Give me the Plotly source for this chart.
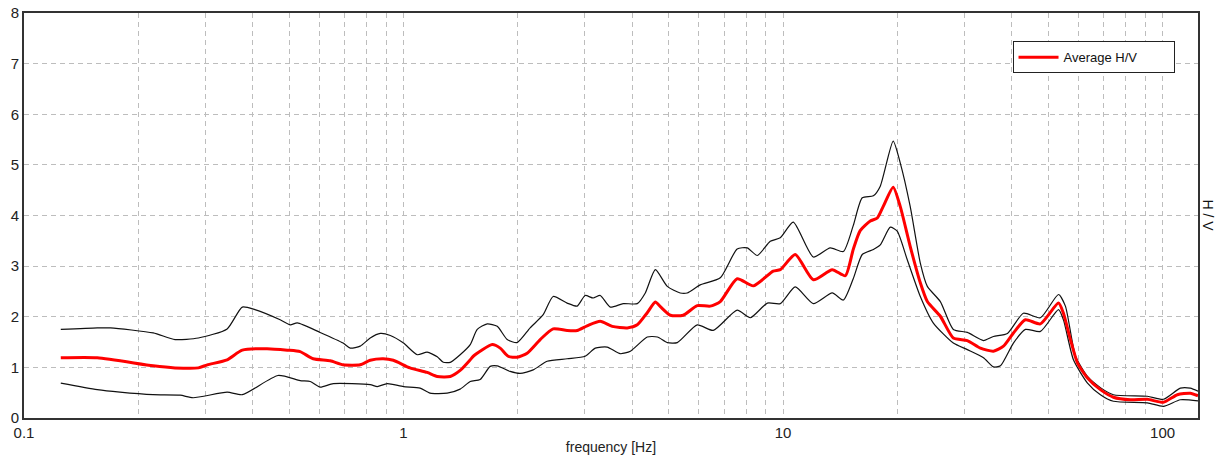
import numpy as np
import plotly.graph_objects as go

# ---- data ----
avg_freq = [0.125, 0.156, 0.219, 0.250, 0.288, 0.304, 0.343, 0.376, 0.437, 0.494, 0.534, 0.578,
            0.641, 0.693, 0.769, 0.817, 0.884, 0.940, 1.04, 1.154, 1.227, 1.328, 1.410, 1.499,
            1.527, 1.713, 1.798, 1.887, 1.993, 2.117, 2.292, 2.479, 2.698, 2.868, 3.046, 3.299,
            3.548, 3.887, 4.130, 4.387, 4.609, 4.750, 5.047, 5.458, 5.943, 6.430, 6.834, 7.570,
            8.349, 9.421, 9.834, 10.77, 12.02, 13.48, 14.59, 15.31, 15.97, 16.98, 17.72, 18.37,
            19.51, 20.36, 21.63, 23.00, 24.00, 25.97, 28.10, 30.59, 33.12, 35.84, 38.09, 40.46,
            43.52, 47.66, 53.19, 54.81, 57.18, 59.67, 63.42, 68.59, 74.23, 82.27, 91.20, 100.5,
            109.4, 118.3, 124.0]
avg_hv = [1.19, 1.19, 1.03, 0.99, 0.99, 1.05, 1.15, 1.34, 1.37, 1.34, 1.31, 1.17,
          1.13, 1.05, 1.05, 1.14, 1.17, 1.14, 0.99, 0.90, 0.82, 0.82, 0.94, 1.15,
          1.22, 1.45, 1.38, 1.22, 1.20, 1.28, 1.55, 1.76, 1.73, 1.73, 1.82, 1.91,
          1.81, 1.78, 1.84, 2.08, 2.29, 2.20, 2.03, 2.03, 2.22, 2.21, 2.30, 2.75,
          2.61, 2.90, 2.93, 3.23, 2.73, 2.93, 2.81, 3.33, 3.70, 3.89, 3.95, 4.18,
          4.56, 4.18, 3.39, 2.67, 2.30, 2.01, 1.58, 1.53, 1.38, 1.32, 1.42, 1.68,
          1.94, 1.86, 2.27, 2.07, 1.55, 1.09, 0.79, 0.56, 0.41, 0.36, 0.37, 0.31,
          0.46, 0.49, 0.44]

upper_freq = [0.125, 0.156, 0.169, 0.219, 0.250, 0.288, 0.343, 0.376, 0.406, 0.473, 0.503, 0.525,
              0.603, 0.693, 0.724, 0.769, 0.817, 0.869, 0.923, 1.00, 1.087, 1.154, 1.227, 1.273,
              1.328, 1.410, 1.499, 1.564, 1.662, 1.766, 1.876, 1.993, 2.156, 2.334, 2.479, 2.698,
              2.868, 3.010, 3.160, 3.299, 3.505, 3.793, 4.130, 4.336, 4.609, 4.955, 5.358, 5.592,
              6.050, 6.834, 7.570, 8.047, 8.553, 9.255, 9.834, 10.64, 12.02, 13.31, 14.42, 15.31,
              16.17, 17.30, 18.04, 19.51, 20.36, 21.63, 23.00, 24.00, 25.97, 28.10, 30.59, 33.74,
              35.84, 39.02, 42.99, 47.66, 53.19, 55.47, 58.99, 63.42, 68.59, 74.23, 91.20, 100.5,
              111.4, 118.3, 124.0]
upper_hv = [1.75, 1.78, 1.78, 1.68, 1.55, 1.58, 1.76, 2.19, 2.14, 1.94, 1.84, 1.88,
            1.69, 1.48, 1.38, 1.42, 1.58, 1.67, 1.63, 1.48, 1.25, 1.30, 1.21, 1.10,
            1.10, 1.25, 1.45, 1.75, 1.86, 1.81, 1.55, 1.49, 1.78, 2.04, 2.40, 2.27,
            2.21, 2.42, 2.37, 2.42, 2.19, 2.26, 2.26, 2.47, 2.93, 2.60, 2.47, 2.47,
            2.63, 2.77, 3.34, 3.36, 3.21, 3.49, 3.56, 3.87, 3.18, 3.36, 3.29, 3.80,
            4.35, 4.39, 4.58, 5.47, 5.04, 4.18, 3.06, 2.60, 2.30, 1.75, 1.69, 1.53,
            1.61, 1.67, 2.07, 1.98, 2.44, 2.21, 1.22, 0.82, 0.60, 0.46, 0.43, 0.37,
            0.59, 0.59, 0.53]

lower_freq = [0.125, 0.156, 0.179, 0.219, 0.258, 0.279, 0.343, 0.376, 0.467, 0.534, 0.568, 0.603,
              0.653, 0.817, 0.853, 0.906, 1.00, 1.106, 1.175, 1.303, 1.410, 1.499, 1.592, 1.692,
              1.766, 1.910, 2.029, 2.196, 2.390, 2.698, 3.010, 3.200, 3.441, 3.724, 3.961, 4.387,
              4.666, 4.955, 5.265, 5.943, 6.547, 7.570, 8.196, 9.095, 9.834, 10.77, 12.02, 13.48,
              14.42, 15.31, 16.17, 17.30, 18.04, 19.17, 19.99, 21.24, 23.00, 24.87, 28.10, 30.59,
              33.74, 35.84, 37.40, 40.46, 43.52, 47.66, 53.19, 54.81, 58.24, 63.42, 68.59, 74.23,
              91.20, 100.5, 111.4, 124.0]
lower_hv = [0.69, 0.56, 0.51, 0.46, 0.45, 0.40, 0.51, 0.46, 0.84, 0.74, 0.72, 0.61,
            0.68, 0.66, 0.62, 0.68, 0.62, 0.59, 0.49, 0.49, 0.57, 0.72, 0.76, 1.02,
            1.03, 0.92, 0.88, 0.95, 1.12, 1.17, 1.22, 1.38, 1.40, 1.27, 1.32, 1.60,
            1.60, 1.49, 1.49, 1.84, 1.73, 2.13, 1.98, 2.27, 2.26, 2.59, 2.26, 2.47,
            2.33, 2.75, 3.23, 3.33, 3.42, 3.77, 3.69, 3.13, 2.40, 1.88, 1.48, 1.35,
            1.19, 1.01, 1.03, 1.48, 1.75, 1.71, 2.14, 1.94, 1.15, 0.69, 0.46, 0.33,
            0.30, 0.23, 0.36, 0.34]

x_major = [0.1, 1, 10, 100]
x_major_labels = ["0.1", "1", "10", "100"]
y_ticks = [0, 1, 2, 3, 4, 5, 6, 7, 8]

# grid positions: every 1..9 within each decade
grid_vals = []
grid_text = []
for dec in [0.1, 1, 10, 100]:
    for m in range(1, 10):
        v = round(dec * m, 6)
        if v > 124:
            break
        grid_vals.append(v)
        grid_text.append(x_major_labels[x_major.index(v)] if v in x_major else "")

FONT = "Liberation Sans Narrow, Arial Narrow, Liberation Sans, sans-serif"

line_shape = dict(shape="spline", smoothing=0.6)

fig = go.Figure()
fig.add_trace(go.Scatter(x=upper_freq, y=upper_hv, mode="lines",
                         line=dict(color="#111111", width=1.2, **line_shape),
                         showlegend=False, hoverinfo="skip"))
fig.add_trace(go.Scatter(x=lower_freq, y=lower_hv, mode="lines",
                         line=dict(color="#111111", width=1.2, **line_shape),
                         showlegend=False, hoverinfo="skip"))
fig.add_trace(go.Scatter(x=avg_freq, y=avg_hv, mode="lines", name="Average H/V",
                         line=dict(color="#ff0000", width=3, **line_shape)))

fig.update_layout(
    width=1227, height=462,
    margin=dict(l=24, r=29, t=13, b=44),
    paper_bgcolor="white", plot_bgcolor="white",
    font=dict(family=FONT, size=14, color="#222222"),
    showlegend=True,
    legend=dict(x=0.980, y=0.93, xanchor="right", yanchor="top",
                orientation="h", entrywidth=105,
                bgcolor="white", bordercolor="#222222", borderwidth=1,
                font=dict(family=FONT, size=13, color="#111111"),
                itemwidth=40, valign="middle"),
    xaxis=dict(type="log", range=[-1, np.log10(124)], automargin=False,
               tickmode="array", tickvals=grid_vals, ticktext=grid_text,
               showgrid=True, gridcolor="#bdbdbd", griddash="5px,4px", gridwidth=1,
               showline=True, linecolor="#333333", linewidth=2, mirror=True,
               ticks="", zeroline=False, ticklabelstandoff=0,
               title=dict(text="frequency [Hz]", font=dict(size=14), standoff=2),
               tickfont=dict(size=15)),
    yaxis=dict(range=[0, 8], tickvals=y_ticks, automargin=False,
               showgrid=True, gridcolor="#bdbdbd", griddash="5px,4px", gridwidth=1,
               showline=True, linecolor="#333333", linewidth=2, mirror=True,
               ticks="", zeroline=False, tickfont=dict(size=15), ticklabelstandoff=0),
    annotations=[dict(text="H / V", textangle=90, xref="paper", yref="paper",
                      x=1.0, y=0.5, xanchor="center", yanchor="middle", xshift=10,
                      showarrow=False, font=dict(family=FONT, size=14, color="#111111"))],
)

# remove the browser's default body margin so the figure fills the window exactly
fig.write_html("out.html", config={"displayModeBar": False},
               post_script="document.body.style.margin='0';")
